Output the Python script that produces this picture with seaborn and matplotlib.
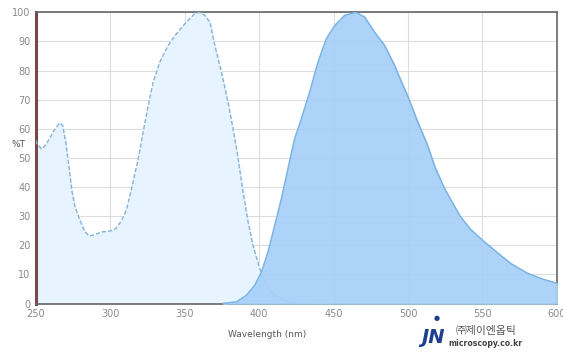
import matplotlib
matplotlib.use("Agg")
import matplotlib.pyplot as plt
import pandas as pd
import seaborn as sns

# --- Spectrum values ---
ex_wavelength = [250, 250.5, 253.8, 257.2, 261.6, 265.6, 267.9, 270.1, 272.4, 274, 276.2,
                 279.5, 282.9, 285.8, 289.6, 294.1, 299.7, 303.7, 307.5, 310.9, 314.2,
                 318.7, 322, 325.4, 328.7, 333.2, 338.8, 344.4, 351.1, 356.7, 359.6,
                 363.4, 367, 370.1, 374.6, 379, 382.4, 385.8, 389.1, 392.5, 395.8,
                 400.3, 404.8, 410.4, 418.3, 427.2, 440, 450]
ex_percent = [56, 55, 53, 55, 59, 62, 61.2, 55, 45.8, 39, 33.2,
              28.6, 24.6, 23.2, 23.7, 24.6, 24.9, 25.8, 28.5, 32.5, 39.5,
              49.8, 59, 68, 76, 83, 88.7, 92.7, 96.7, 99.6, 100,
              99, 96.5, 88.7, 79.5, 69.2, 60.1, 49.8, 38.4, 28.1, 20,
              12.1, 6.3, 2.9, 0.9, 0.1, 0, 0]

em_wavelength = [375.7, 384.7, 391.4, 397, 401.5, 405.9, 410.4, 414.9, 419.3, 423.8,
                 428.3, 433.9, 439.5, 445.1, 450.7, 457.4, 465, 470.8, 477.5, 484.2,
                 490.9, 496.5, 500, 506, 513, 518, 524, 530, 535, 542, 550, 560, 569,
                 580, 590, 600]
em_percent = [0.1, 0.6, 2.9, 6.3, 10.9, 17.8, 26.9, 36.1, 46.4, 56.7,
              63.5, 72.7, 83, 91, 95.5, 99, 100, 98.4, 93.2, 88.7,
              81.8, 75, 71, 63, 54.5, 47, 40, 34.5, 30, 25.5, 21.8, 17.5, 13.8,
              10.5, 8.5, 7]

x_ticks = [250, 300, 350, 400, 450, 500, 550, 600]
y_ticks = [0, 10, 20, 30, 40, 50, 60, 70, 80, 90, 100]

excitation = pd.DataFrame({"Wavelength": ex_wavelength, "T": ex_percent})
emission = pd.DataFrame({"Wavelength": em_wavelength, "T": em_percent})

sns.set_style("white")
plt.rcParams["font.family"] = ["DejaVu Sans", "Noto Sans CJK KR"]

fig = plt.figure(figsize=(5.63, 3.53), dpi=100)
ax = fig.add_axes([0.064, 0.140, 0.925, 0.825])

# Excitation (light fill, dashed outline)
ax.fill_between(excitation["Wavelength"], excitation["T"], color="#e7f3fe", zorder=2)
sns.lineplot(data=excitation, x="Wavelength", y="T", ax=ax, color="#86b3d8",
             linestyle=(0, (3, 1.5)), linewidth=1.0, zorder=3)

# Emission (solid fill)
ax.fill_between(emission["Wavelength"], emission["T"], color="#a6d0f8", alpha=0.92, zorder=4)
sns.lineplot(data=emission, x="Wavelength", y="T", ax=ax, color="#79b3e4",
             linewidth=1.0, zorder=5)

ax.set_xlim(250, 600)
ax.set_ylim(0, 100)
ax.set_xticks(x_ticks)
ax.set_yticks(y_ticks)
ax.grid(True, color="#dddddd", linewidth=0.8, zorder=1)
ax.set_axisbelow(True)
ax.tick_params(axis="both", labelsize=7, labelcolor="#8a8a8a", length=0, pad=4)

for side in ["top", "right", "bottom"]:
    ax.spines[side].set_color("#666666")
    ax.spines[side].set_linewidth(1.2)
ax.spines["left"].set_color("#7a4848")
ax.spines["left"].set_linewidth(2.2)

ax.set_xlabel("")
ax.set_ylabel("")
fig.text(0.021, 0.59, "%T", fontsize=6.5, color="#555555", ha="left", va="center")
fig.text(0.475, 0.051, "Wavelength (nm)", fontsize=6.5, color="#555555",
         ha="center", va="center")

# Logo in the corner
fig.text(0.77, 0.045, "JN", fontsize=14, color="#1f3f8f", fontweight="bold",
         ha="center", va="center", style="italic")
fig.text(0.776, 0.10, "●", fontsize=5, color="#1f3f8f", ha="center", va="center")
fig.text(0.863, 0.062, "㈜제이엔옵틱", fontsize=7.8, color="#555555", ha="center", va="center",
         family=["Noto Sans CJK KR", "DejaVu Sans"])
fig.text(0.863, 0.026, "microscopy.co.kr", fontsize=5.6, color="#444444", ha="center",
         va="center", fontweight="bold")

fig.savefig("out.png", dpi=100)
